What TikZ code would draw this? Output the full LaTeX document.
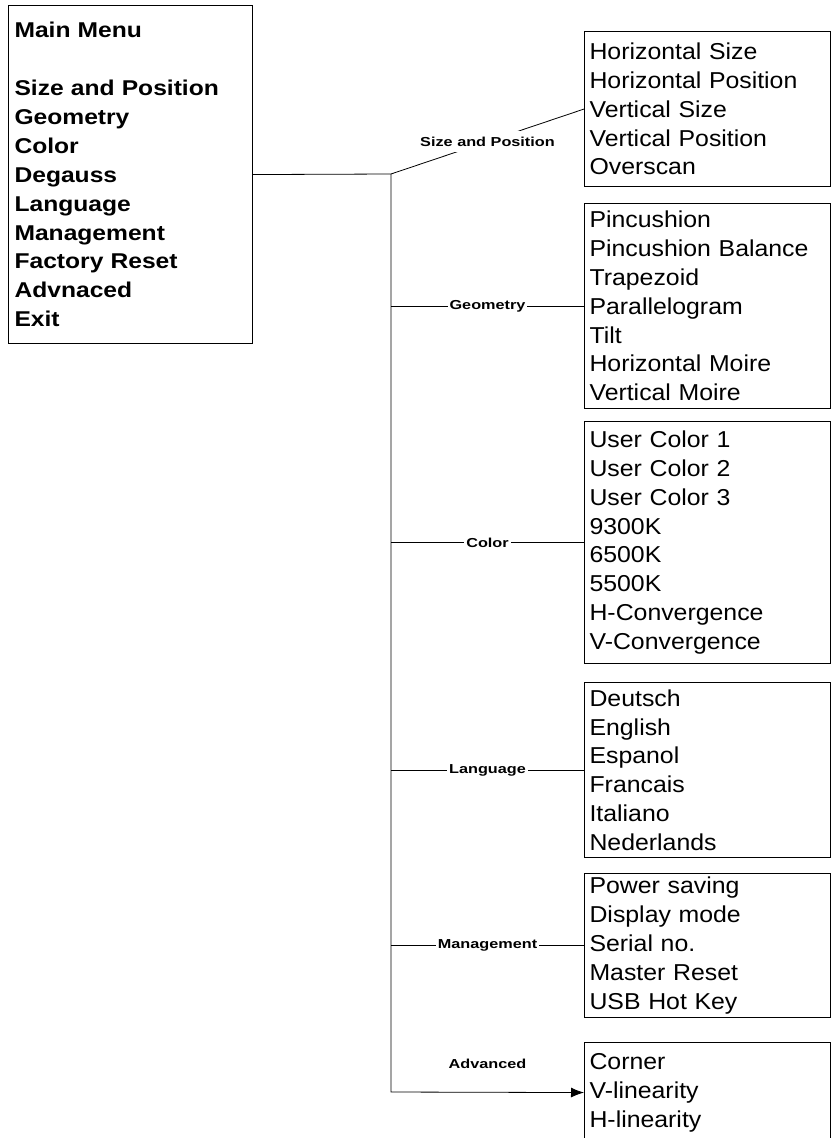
\documentclass[tikz,border=0pt]{standalone}
\usepackage{fontspec}
\setmainfont{Liberation Sans}
\newfontfamily\itemfont[FakeStretch=1.08]{Liberation Sans}
\newfontfamily\menufont[FakeStretch=1.15]{Liberation Sans}
\newfontfamily\labelfont[FakeStretch=1.25]{Liberation Sans}
\usetikzlibrary{arrows.meta,positioning}

\begin{document}
\begin{tikzpicture}[x=1pt,y=1pt,>={Latex[length=13pt,width=10pt]}, menubox/.style={draw, line width=1.1pt, anchor=north west, align=left, inner xsep=5pt, inner ysep=0pt}, subbox/.style={menubox, text width=236pt, font=\itemfont\fontsize{23}{28.8}\selectfont}, branch/.style={line width=0.8pt}, tag/.style={fill=white, inner xsep=2pt, inner ysep=1pt, font=\labelfont\bfseries\fontsize{13}{15}\selectfont}]
        \useasboundingbox (0,0) rectangle (831,-1138);
        \node[menubox, text width=232pt, inner xsep=6pt, minimum height=338pt, font=\menufont\bfseries\fontsize{21.4}{28.9}\selectfont] (main) at (8,-5) {Main Menu\\[28.9pt]Size and Position\\Geometry\\Color\\Degauss\\Language\\Management\\Factory Reset\\Advnaced\\Exit};

        \node[subbox, minimum height=155pt] (size) at (584,-31) {Horizontal Size\\Horizontal Position\\Vertical Size\\Vertical Position\\Overscan};
        \node[subbox, minimum height=205pt] (geo) at (584,-203) {Pincushion\\Pincushion Balance\\Trapezoid\\Parallelogram\\Tilt\\Horizontal Moire\\Vertical Moire};
        \node[subbox, minimum height=242pt] (color) at (584,-421) {User Color 1\\User Color 2\\User Color 3\\9300K\\6500K\\5500K\\H-Convergence\\V-Convergence};
        \node[subbox, minimum height=175pt] (lang) at (584,-682) {Deutsch\\English\\Espanol\\Francais\\Italiano\\Nederlands};
        \node[subbox, minimum height=144pt] (mgmt) at (584,-873) {Power saving\\Display mode\\Serial no.\\Master Reset\\USB Hot Key};
        \node[subbox, minimum height=100pt] (adv) at (584,-1042) {Corner\\V-linearity\\H-linearity};

        \coordinate (junc) at (391,-174);
        \coordinate (bend) at (391,-1092);

        \draw[branch] (main.east) -- (junc) -- node[tag, inner ysep=6pt] {Size and Position} (size.west);
        \draw[branch] (junc |- geo.west) -- node[tag] {Geometry} (geo.west);
        \draw[branch] (junc |- color.west) -- node[tag] {Color} (color.west);
        \draw[branch] (junc |- lang.west) -- node[tag] {Language} (lang.west);
        \draw[branch] (junc |- mgmt.west) -- node[tag] {Management} (mgmt.west);
        \draw[branch, ->] (junc) -- (bend) -- node[tag, above=22pt] {Advanced} (adv.west);
    \end{tikzpicture}
\end{document}
